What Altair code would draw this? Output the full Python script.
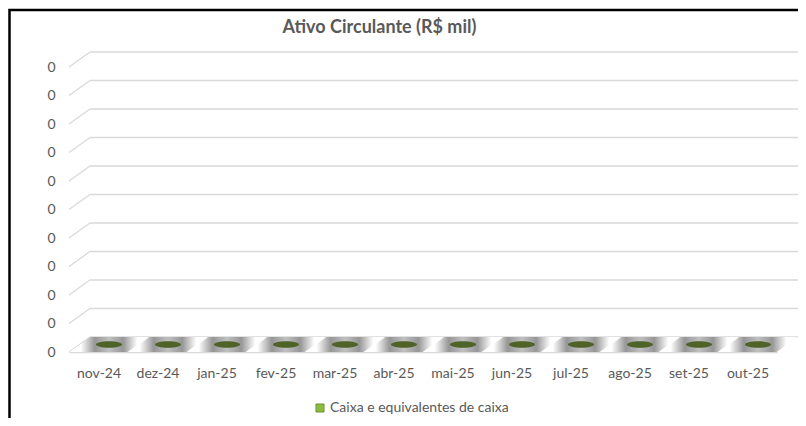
import altair as alt
import pandas as pd

# ---- data ----
months = ["nov-24", "dez-24", "jan-25", "fev-25", "mar-25", "abr-25",
          "mai-25", "jun-25", "jul-25", "ago-25", "set-25", "out-25"]
caixa = [0, 0, 0, 0, 0, 0, 0, 0, 0, 0, 0, 0]
serie_name = "Caixa e equivalentes de caixa"
y_ticks = [0.0, 0.1, 0.2, 0.3, 0.4, 0.5, 0.6, 0.7, 0.8, 0.9, 1.0]
y_tick_labels = ["0", "0", "0", "0", "0", "0", "0", "0", "0", "0", "0"]
title_text = "Ativo Circulante (R$ mil)"

df = pd.DataFrame({"mes": months, "valor": caixa, "serie": [serie_name] * len(months)})
grid_df = pd.DataFrame({"tick": y_ticks})
frame_df = pd.DataFrame({"f": [0]})
title_df = pd.DataFrame({"t": [title_text]})

FONT = "Lato"
TXT = "#595959"
GRID = "#d9d9d9"
DEPTH_X = 21
DEPTH_Y = 15

label_expr = "[" + ",".join(f"'{l}'" for l in y_tick_labels) + "][round(datum.value*10)]"

y_scale = alt.Scale(domain=[0, 1], nice=False, zero=True)
y_axis = alt.Axis(title=None, values=y_ticks, labelExpr=label_expr, ticks=False,
                  domain=False, grid=False, labelPadding=14, labelFont=FONT,
                  labelFontSize=14, labelColor=TXT)


def yenc(field):
    return alt.Y(f"{field}:Q", scale=y_scale, axis=y_axis)


x_enc = alt.X("mes:N", sort=months, scale=alt.Scale(paddingInner=0, paddingOuter=0),
              axis=alt.Axis(title=None, labelAngle=0, ticks=False, domainColor=GRID,
                            domainWidth=1.3, labelPadding=14, labelFont=FONT,
                            labelFontSize=14, labelColor=TXT, grid=False))

# back wall gridlines
back = alt.Chart(grid_df).mark_rule(color=GRID, strokeWidth=1.3, yOffset=-DEPTH_Y).encode(
    y=yenc("tick"), x=alt.value(DEPTH_X), x2=alt.value(708 + DEPTH_X))
# side wall slanted gridlines
slant = alt.Chart(grid_df).mark_rule(color=GRID, strokeWidth=1.3, y2Offset=-DEPTH_Y).encode(
    y=yenc("tick"), y2="tick:Q", x=alt.value(0), x2=alt.value(DEPTH_X))

halo_path = "M-0.64,-0.26 L1.36,-0.26 L0.64,0.26 L-1.36,0.26 Z"
halo_fill = alt.Gradient(gradient="linear", x1=0, x2=1, y1=0, y2=0, stops=[
    alt.GradientStop(offset=0.0, color="#ffffff"),
    alt.GradientStop(offset=0.14, color="#ffffff"),
    alt.GradientStop(offset=0.32, color="#969696"),
    alt.GradientStop(offset=0.5, color="#c0c0c0"),
    alt.GradientStop(offset=0.68, color="#969696"),
    alt.GradientStop(offset=0.86, color="#ffffff"),
    alt.GradientStop(offset=1.0, color="#ffffff"),
])
halo = alt.Chart(df).mark_point(shape=halo_path, filled=True, fill=halo_fill, size=58 * 58,
                                strokeWidth=0, opacity=1, xOffset=DEPTH_X / 2,
                                yOffset=-DEPTH_Y / 2).encode(x=x_enc, y=yenc("valor"))

ellipse_path = "M-1,0 A1,0.25 0 1,1 1,0 A1,0.25 0 1,1 -1,0 Z"
bars = alt.Chart(df).mark_point(shape=ellipse_path, filled=True, fill="#4f6228", size=26 * 26,
                                strokeWidth=0, opacity=1, xOffset=DEPTH_X / 2,
                                yOffset=-DEPTH_Y / 2).encode(x=x_enc, y=yenc("valor"))

legend_layer = alt.Chart(df).mark_square(size=0, opacity=1).encode(
    x=x_enc, y=yenc("valor"),
    color=alt.Color("serie:N", scale=alt.Scale(range=["#8dbb44"]),
                    legend=alt.Legend(title=None, orient="none", legendX=244, legendY=334,
                                      symbolType="square", symbolSize=64,
                                      symbolStrokeColor="#6b8e23", symbolStrokeWidth=1,
                                      labelFont=FONT, labelFontSize=14, labelColor=TXT,
                                      labelOffset=3, labelLimit=400)))

frame = alt.Chart(frame_df).mark_rect(fillOpacity=0, stroke="black", strokeWidth=2.5).encode(
    x=alt.value(-59.5), x2=alt.value(760), y=alt.value(-57), y2=alt.value(420))

title = alt.Chart(title_df).mark_text(font=FONT, fontSize=18, fontWeight="bold", color=TXT,
                                      align="center", baseline="middle").encode(
    text="t:N", x=alt.value(310.5), y=alt.value(-39))

chart = alt.layer(frame, back, slant, halo, bars, legend_layer, title).properties(
    width=708, height=285,
    autosize=alt.AutoSizeParams(type="none"),
    padding={"left": 61, "top": 59, "right": 21, "bottom": 66},
).configure_view(strokeWidth=0)

chart.save("out.html", embed_options={"renderer": "svg", "actions": False})
